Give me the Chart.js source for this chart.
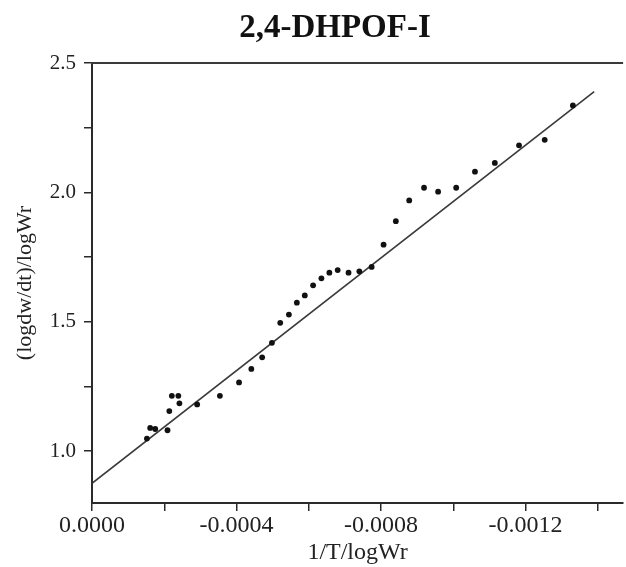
<!DOCTYPE html>
<html>
<head>
<meta charset="utf-8">
<script src="https://cdn.jsdelivr.net/npm/chart.js@4.4.0/dist/chart.umd.min.js"></script>
<style>
  html, body { margin: 0; padding: 0; background: #fff; }
  #wrap { width: 626px; height: 567px; }
</style>
</head>
<body>
<div id="wrap"><canvas id="kinChart"></canvas></div>
<script>
const chartTitle = '2,4-DHPOF-I';

// measured points (x = 1/T/logWr, y = (logdw/dt)/logWr)
const xVals = [-0.000152, -0.000161, -0.000175, -0.000209, -0.000214, -0.000221, -0.000239, -0.000242,
  -0.000291, -0.000354, -0.000407, -0.000441, -0.000471, -0.000498, -0.000521, -0.000545, -0.000567,
  -0.000589, -0.000612, -0.000635, -0.000657, -0.000680, -0.000710, -0.000740, -0.000774, -0.000807,
  -0.000841, -0.000878, -0.000919, -0.000958, -0.001008, -0.001060, -0.001115, -0.001182, -0.001253, -0.001331];
const yVals = [1.049, 1.090, 1.086, 1.081, 1.155, 1.214, 1.214, 1.185,
  1.181, 1.214, 1.266, 1.318, 1.363, 1.419, 1.496, 1.528, 1.574,
  1.602, 1.641, 1.668, 1.690, 1.700, 1.690, 1.695, 1.712, 1.798,
  1.889, 1.969, 2.018, 2.003, 2.018, 2.080, 2.114, 2.182, 2.203, 2.336];

// fitted straight line, end points
const fitX = [0, -0.00139];
const fitY = [0.876, 2.389];

const xTicks = [0, -0.0002, -0.0004, -0.0006, -0.0008, -0.0010, -0.0012, -0.0014];
const xLabeled = [0, -0.0004, -0.0008, -0.0012];
const yTicks = [1.0, 1.25, 1.5, 1.75, 2.0, 2.25, 2.5];
const yLabeled = [1.0, 1.5, 2.0, 2.5];

const serif = '"Liberation Serif", "Times New Roman", serif';
const ink = '#2a2a2a';

const pts = xVals.map((x, i) => ({ x: x, y: yVals[i] }));
const fit = fitX.map((x, i) => ({ x: x, y: fitY[i] }));

// top frame line + title (title sits a bit right of canvas centre in the original)
const frameTop = {
  id: 'frameTop',
  afterDraw(chart) {
    const { ctx, chartArea } = chart;
    ctx.save();
    ctx.strokeStyle = '#3a3a3a';
    ctx.lineWidth = 2;
    ctx.beginPath();
    ctx.moveTo(chartArea.left - 1, chartArea.top);
    ctx.lineTo(chartArea.right, chartArea.top);
    ctx.stroke();
    ctx.fillStyle = '#111';
    ctx.font = 'bold 33px ' + serif;
    ctx.textAlign = 'center';
    ctx.textBaseline = 'middle';
    ctx.fillText(chartTitle, 335, 28);
    ctx.restore();
  }
};

const near = (arr, v) => arr.some(a => Math.abs(a - v) < 1e-9);

new Chart(document.getElementById('kinChart'), {
  type: 'scatter',
  data: {
    datasets: [{
      data: pts,
      pointRadius: 2.9,
      pointHoverRadius: 2.9,
      backgroundColor: '#111',
      borderColor: '#111',
      borderWidth: 0
    }, {
      type: 'line',
      data: fit,
      borderColor: '#3a3a3a',
      borderWidth: 1.6,
      pointRadius: 0,
      fill: false
    }]
  },
  plugins: [frameTop],
  options: {
    responsive: true,
    maintainAspectRatio: false,
    animation: false,
    layout: { padding: { top: 63, right: 0, left: 0, bottom: 0 } },
    plugins: {
      legend: { display: false },
      tooltip: { enabled: false }
    },
    scales: {
      x: {
        type: 'linear',
        min: -0.00147,
        max: 0,
        reverse: true,
        afterBuildTicks: s => { s.ticks = xTicks.map(v => ({ value: v })); },
        afterFit: s => { s.height = 64; },
        border: { color: ink, width: 2 },
        grid: { drawOnChartArea: false, drawTicks: true, tickLength: 8, color: ink, lineWidth: 1.5 },
        ticks: {
          color: '#222',
          padding: 3,
          maxRotation: 0,
          autoSkip: false,
          font: { family: serif, size: 24, lineHeight: 1.0 },
          callback: v => near(xLabeled, v) ? v.toFixed(4) : ''
        },
        title: {
          display: true,
          text: '1/T/logWr',
          color: '#222',
          padding: { top: 0, bottom: 0 },
          font: { family: serif, size: 24 }
        }
      },
      y: {
        type: 'linear',
        min: 0.8,
        max: 2.5,
        afterBuildTicks: s => { s.ticks = yTicks.map(v => ({ value: v })); },
        afterFit: s => { s.width = 92; },
        border: { color: ink, width: 2 },
        grid: { drawOnChartArea: false, drawTicks: true, tickLength: 8, color: ink, lineWidth: 1.5 },
        ticks: {
          color: '#222',
          padding: 8,
          autoSkip: false,
          font: { family: serif, size: 21 },
          callback: v => near(yLabeled, v) ? v.toFixed(1) : ''
        },
        title: {
          display: true,
          text: '(logdw/dt)/logWr',
          color: '#222',
          padding: { top: 12, bottom: 0 },
          font: { family: serif, size: 22 }
        }
      }
    }
  }
});
</script>
</body>
</html>
